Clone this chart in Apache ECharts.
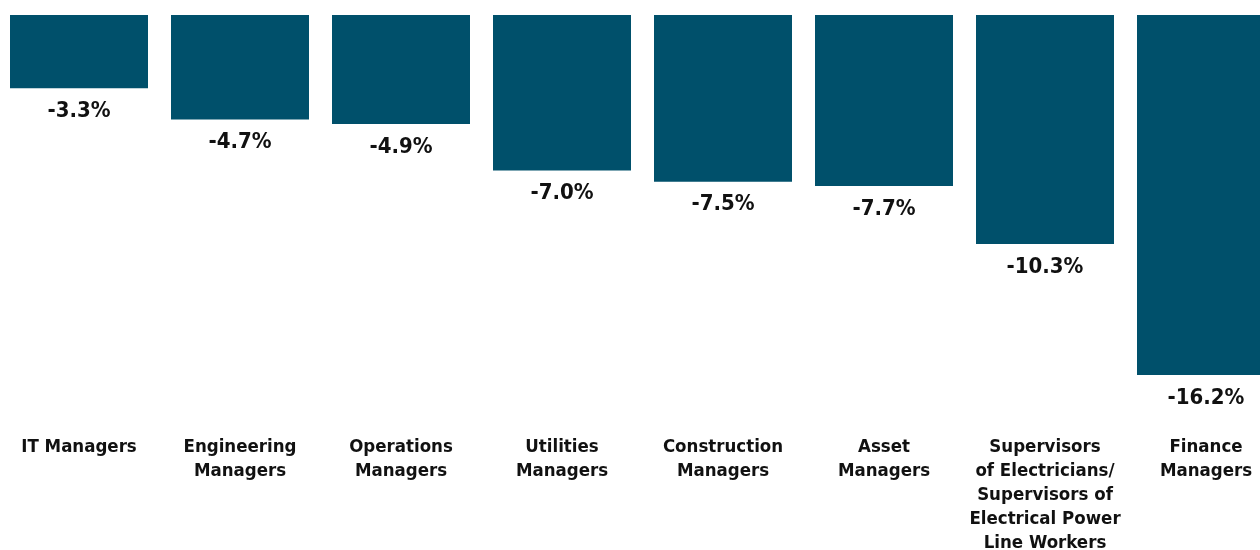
<!DOCTYPE html>
<html>
<head>
<meta charset="utf-8">
<script src="https://cdn.jsdelivr.net/npm/echarts@6/dist/echarts.min.js"></script>
<style>
  html, body { margin: 0; padding: 0; background: #fff; overflow: hidden; }
  #chart { width: 1260px; height: 550px; }
</style>
</head>
<body>
<div id="chart"></div>
<script>
const categories = [
  "IT Managers",
  "Engineering\nManagers",
  "Operations\nManagers",
  "Utilities\nManagers",
  "Construction\nManagers",
  "Asset\nManagers",
  "Supervisors\nof Electricians/\nSupervisors of\nElectrical Power\nLine Workers",
  "Finance\nManagers"
];
const changeValues = [-3.3, -4.7, -4.9, -7.0, -7.5, -7.7, -10.3, -16.2];

const FONT = "'DejaVu Sans Condensed', 'DejaVu Sans', sans-serif";

let myChart = echarts.init(document.getElementById("chart"));
myChart.setOption({
  animation: false,
  grid: {
    left: -1.5,
    width: 1288,
    top: 15,
    height: 360,
    containLabel: false,
    outerBoundsMode: "none",
  },
  xAxis: {
    type: "category",
    data: categories,
    position: "bottom",
    axisLine: { show: false, onZero: false },
    axisTick: { show: false },
    axisLabel: {
      interval: 0,
      margin: 60,
      verticalAlign: "top",
      color: "#111",
      fontFamily: FONT,
      fontWeight: "bold",
      fontSize: 18.5,
      lineHeight: 24,
    },
  },
  yAxis: {
    type: "value",
    min: -16.2,
    max: 0,
    show: false,
    splitLine: { show: false },
  },
  series: [
    {
      type: "bar",
      data: changeValues,
      barWidth: 138,
      itemStyle: { color: "#00506b" },
      label: {
        show: true,
        position: "bottom",
        distance: 12,
        color: "#111",
        fontFamily: FONT,
        fontWeight: "bold",
        fontSize: 22,
        formatter: (p) => p.value.toFixed(1) + "%",
      },
    },
  ],
});
window.onresize = function () {
  myChart.resize();
};
</script>
</body>
</html>
